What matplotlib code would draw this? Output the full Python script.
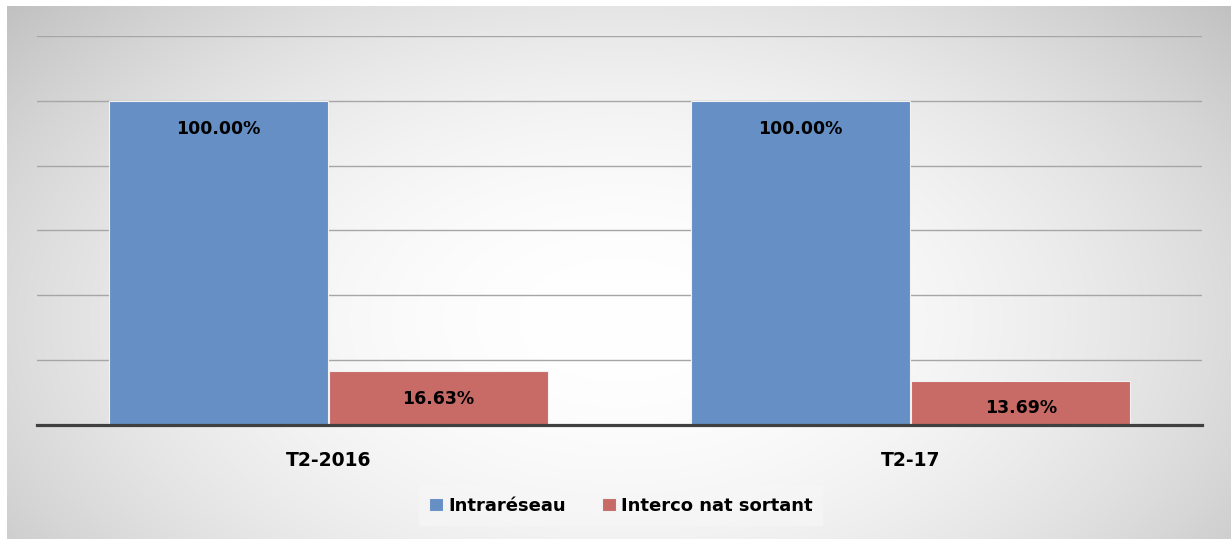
import matplotlib.pyplot as plt
import numpy as np

categories = ["T2-2016", "T2-17"]
series_names = ["Intraréseau", "Interco nat sortant"]
intrareseau = [100.00, 100.00]
interco_nat_sortant = [16.63, 13.69]

COLORS = ["#658fc5", "#c86a66"]
FONT = "DejaVu Sans"

W, H, DPI = 1231, 539, 100
fig = plt.figure(figsize=(W / DPI, H / DPI), dpi=DPI)
fig.patch.set_facecolor("white")

# soft radial background of the chart area
bg = fig.add_axes([7 / W, 0, 1 - 7 / W, (H - 6) / H], zorder=0)
yy, xx = np.mgrid[6:H, 7:W]
d2 = ((xx - 620) / 700.0) ** 2 + ((yy - 320) / 420.0) ** 2
shade = np.clip(1.0 - 47.0 * d2 / 255.0, 0.72, 1.0)
bg.imshow(np.dstack([shade] * 3), aspect="auto", interpolation="bilinear")
bg.set_axis_off()

ax = fig.add_axes([37 / W, 114 / H, (1202 - 37) / W, (425 - 36) / H], zorder=1)
ax.patch.set_alpha(0)

x = np.arange(len(categories))
width = 0.376
offset = 0.189
bars = []
for i, (vals, name) in enumerate(zip([intrareseau, interco_nat_sortant], series_names)):
    pos = x - offset if i == 0 else x + offset
    b = ax.bar(pos, vals, width=width, color=COLORS[i], edgecolor="#f2f2f2",
               linewidth=0.8, label=name, zorder=3)
    bars.append(b)
    for rect, v in zip(b, vals):
        ax.annotate(f"{v:.2f}%", (rect.get_x() + rect.get_width() / 2, v),
                    xytext=(0, -20), textcoords="offset points",
                    ha="center", va="center", fontsize=12.5, fontweight="bold",
                    family=FONT, color="black", zorder=4)

ax.set_xlim(-0.5, 1.5)
ax.set_ylim(0, 120)
ax.set_yticks(np.arange(20, 121, 20))
ax.yaxis.grid(True, color="#a6a6a6", linewidth=1.0, zorder=1)
ax.tick_params(axis="y", left=False, labelleft=False)
ax.set_xticks(x)
ax.set_xticklabels(categories, fontsize=13.5, fontweight="bold", family=FONT)
ax.tick_params(axis="x", length=0, pad=19)
for s in ["top", "right", "left"]:
    ax.spines[s].set_visible(False)
ax.spines["bottom"].set_color("#404040")
ax.spines["bottom"].set_linewidth(2.3)
ax.spines["bottom"].set_zorder(5)

leg = fig.legend(handles=bars, labels=series_names, loc="center",
                 bbox_to_anchor=(621 / W, (H - 506) / H), ncol=2,
                 prop={"family": FONT, "weight": "bold", "size": 13},
                 handlelength=0.75, handleheight=0.75, handletextpad=0.3,
                 columnspacing=2.0, frameon=True, fancybox=False,
                 borderpad=0.6)
leg.get_frame().set_facecolor("#f7f7f7")
leg.get_frame().set_alpha(0.6)
leg.get_frame().set_edgecolor("none")

fig.savefig("out.png", dpi=DPI)
